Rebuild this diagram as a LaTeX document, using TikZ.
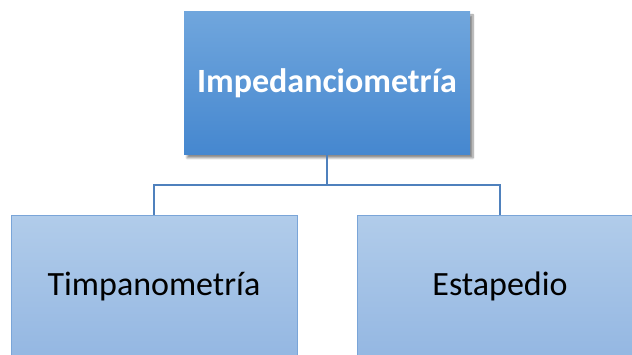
\documentclass[tikz,border=0pt]{standalone}
\usepackage{fontspec}
\setmainfont{Carlito}
\usetikzlibrary{shadows.blur}
\definecolor{topA}{HTML}{70A6DD}
\definecolor{topB}{HTML}{4587CF}
\definecolor{botA}{HTML}{B1CCEA}
\definecolor{botB}{HTML}{94B7E2}
\definecolor{botline}{HTML}{7AA5D8}
\definecolor{conn}{HTML}{4F81BD}
\tikzset{
  mainbox/.style={rectangle, minimum width=286pt, minimum height=143pt, inner sep=0pt,
    top color=topA, bottom color=topB, draw=none,
    blur shadow={shadow xshift=3pt, shadow yshift=-3pt, shadow blur steps=8, shadow blur extra rounding=0pt, shadow opacity=45},
    text=white, font=\fontsize{34}{40}\selectfont\bfseries},
  subbox/.style={rectangle, minimum width=286pt, minimum height=143pt, inner sep=0pt,
    top color=botA, bottom color=botB, draw=botline, line width=1pt,
    text=black, font=\fontsize{34}{40}\selectfont},
  connector/.style={draw=conn, line width=2pt}
}
\begin{document}
\begin{tikzpicture}[x=1pt,y=1pt]
\useasboundingbox (0,0) rectangle (632,354);
\node[mainbox] (top) at (327,270.5) {Impedanciometría};
\node[subbox] (left) at (154,67.5) {Timpanometría};
\node[subbox] (right) at (500,67.5) {Estapedio};
\coordinate (bus) at (327,169);
\draw[connector] (top.south) -- (bus) -| (left.north);
\draw[connector] (bus) -| (right.north);
\end{tikzpicture}
\end{document}
